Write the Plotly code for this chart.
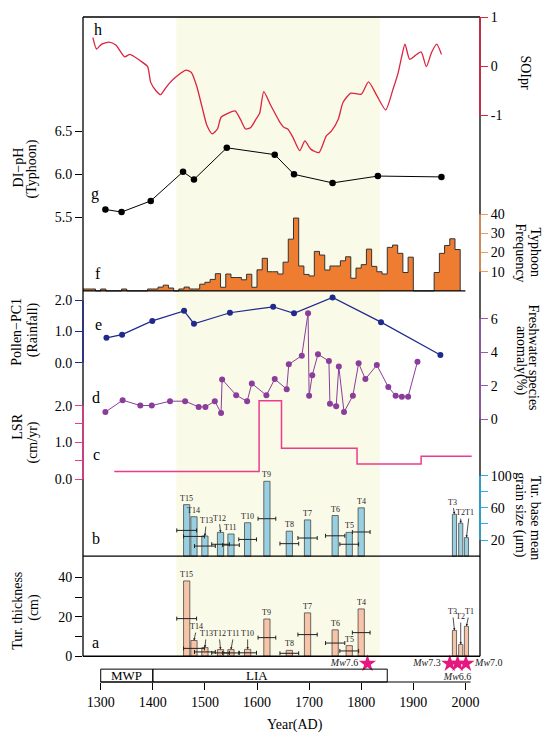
import plotly.graph_objects as go

# ---------------------------------------------------------------------------
# values (x = year AD)
# ---------------------------------------------------------------------------

# h: SOIpr reconstruction
soi_year = [1285, 1292, 1302, 1316, 1329, 1346, 1356, 1376, 1390, 1396,
            1406, 1415, 1423, 1430, 1443, 1464, 1474, 1484, 1494, 1504,
            1514, 1524, 1531, 1544, 1558, 1568, 1578, 1588, 1598, 1605,
            1613, 1625, 1645, 1652, 1659, 1669, 1682, 1692, 1703, 1719,
            1733, 1743, 1756, 1765, 1780, 1800, 1814, 1830, 1847, 1861,
            1871, 1878, 1884, 1893, 1904, 1915, 1925, 1935, 1945, 1954]
soi_value = [0.58, 0.35, 0.45, 0.49, 0.43, 0.19, 0.24, 0.11, -0.01, -0.33,
             -0.50, -0.58, -0.47, -0.37, -0.23, -0.08, -0.13, -0.40, -0.81, -1.21,
             -1.38, -1.28, -1.04, -0.96, -0.91, -1.08, -1.28, -1.25, -1.08, -0.96,
             -0.52, -0.77, -1.16, -1.25, -1.28, -1.45, -1.72, -1.52, -1.69, -1.76,
             -1.42, -1.32, -1.08, -0.74, -0.55, -0.57, -0.32, -0.60, -0.89, -0.47,
             -0.13, 0.21, 0.45, 0.14, 0.22, 0.29, -0.01, 0.28, 0.45, 0.24]

# g: DI-pH (typhoon)
ph_year = [1309, 1340, 1396, 1458, 1479, 1542, 1634, 1671, 1745, 1832, 1954]
ph_value = [5.59, 5.56, 5.69, 6.03, 5.94, 6.31, 6.23, 6.00, 5.90, 5.98, 5.97]

# f: typhoon frequency per decade (bin start years)
typhoon_bin = list(range(1260, 1990, 10))
typhoon_bin_end = 1990
typhoon_freq = [1, 1, 1, 0, 1, 0, 0, 0, 1, 0,
                0, 0, 0, 1, 1, 2, 3, 1.5, 0, 1,
                2, 1, 1, 3.5, 4.5, 6, 9, 1.9, 8.8, 7,
                7, 5.8, 8.7, 1.9, 11, 17, 10, 10, 8.8, 15,
                27, 38, 13, 8.6, 7.8, 20.6, 18.7, 10.9, 13, 13,
                15.7, 17.8, 6.6, 11.9, 13.7, 21.8, 12.8, 10, 8.8, 22.7,
                23.9, 19.6, 9.6, 17.6, 0, 0, 0, 0, 9.6, 19.6,
                23.7, 27.2, 21.6]

# e: pollen PC1 (rainfall)
pc1_year = [1311, 1341, 1399, 1460, 1479, 1548, 1631, 1671, 1745, 1838, 1952]
pc1_value = [0.80, 0.90, 1.34, 1.66, 1.25, 1.60, 1.79, 1.58, 2.09, 1.30, 0.25]

# d: freshwater species anomaly (%)
fresh_year = [1309, 1342, 1376, 1398, 1433, 1462, 1488, 1501, 1519, 1531,
              1533, 1560, 1581, 1590, 1618, 1634, 1657, 1661, 1686, 1698,
              1700, 1706, 1717, 1738, 1740, 1752, 1757, 1767, 1784, 1795,
              1808, 1830, 1852, 1866, 1878, 1890, 1908]
fresh_anomaly = [0.43, 1.14, 0.82, 0.82, 1.08, 1.08, 0.74, 0.74, 1.08, 0.38,
                 2.38, 1.44, 1.07, 2.14, 1.43, 2.40, 1.80, 3.28, 3.80, 6.34,
                 1.41, 2.63, 3.88, 3.48, 0.93, 0.78, 3.15, 0.43, 1.41, 3.34,
                 2.40, 3.24, 1.92, 1.41, 1.35, 1.35, 3.44]

# c: linear sedimentation rate (cm/yr), step edges
lsr_edge = [1326, 1604, 1647, 1792, 1915, 2012]
lsr_rate = [0.21, 2.13, 0.84, 0.41, 0.62]

# a/b: turbidite events
event_name = ["T15", "T14", "T13", "T12", "T11", "T10", "T9", "T8",
              "T7", "T6", "T5", "T4", "T3", "T2", "T1"]
event_year = [1465, 1479, 1500, 1530, 1550, 1582, 1619, 1662,
              1697, 1750, 1777, 1800, 1979, 1991, 2002]
event_grain = [64, 49, 25, 29.5, 27.5, 41.5, 93, 31,
               45, 50.5, 29.5, 60, 52, 41, 23]
event_thickness = [38.2, 8.0, 4.4, 3.4, 3.4, 3.5, 18.9, 3.0,
                   22.0, 13.4, 5.4, 24.0, 13.1, 6.0, 15.2]
event_age_err = [19, 20, 20, 17, 16, 17, 17, 18,
                 18.5, 18.5, 18, 17, 0, 0, 0]

# earthquakes
quake_year = [1812, 1970, 1985, 2001]
quake_mag = ["7.6", "7.3", "6.6", "7.0"]

# climate periods
period_name = ["MWP", "LIA"]
period_start = [1300, 1400]
period_end = [1400, 1850]
lia_shade = (1445, 1836)

# ---------------------------------------------------------------------------
# page geometry (pixels)
# ---------------------------------------------------------------------------
W, H = 550, 737
ML, MR, MT, MB = 83, 70, 10, 55
PW, PH = W - ML - MR, H - MT - MB
PB = H - MB
X_RANGE = [1266, 2028]
FRAME_BOTTOM = 656


def row(py):
    return (PB - py) / PH


def col(px):
    return (px - ML) / PW


def axis_range(v1, y1, v2, y2):
    # v1 sits on pixel row y1 and v2 on y2; stretch to the full plot height
    k = (y1 - y2) / (v2 - v1)
    return [v1 - (PB - y1) / k, v1 + (y1 - MT) / k], k


rng_h, k_h = axis_range(-1, 109.3, 1, 10.1)
rng_g, k_g = axis_range(5.5, 212.3, 6.5, 125.7)
rng_f, k_f = axis_range(0, 286.8, 40, 209.3)
rng_e, k_e = axis_range(0, 359.5, 2, 296.2)
rng_d, k_d = axis_range(0, 416.5, 6, 315)
rng_c, k_c = axis_range(0, 477, 2, 402.7)
rng_b, k_b = axis_range(0, 554.8, 100, 473.5)
rng_a, k_a = axis_range(0, FRAME_BOTTOM, 40, 576.3)

RED = "#DC2440"
ORANGE = "#EF7D31"
ORANGE_AX = "#F39A5C"
NAVY = "#1F2A8C"
PURPLE = "#8A3D9A"
PURPLE_AX = "#9B59B0"
PINK = "#EE3A8C"
CYAN = "#2BB0E6"
GRAIN_FILL = "#98D0E2"
THICK_FILL = "#F8C4A8"
STAR = "#E6177F"
SHADE = "#FAFAE8"
FONT = "Liberation Serif"

fig = go.Figure()

fig.add_trace(go.Scatter(
    x=soi_year, y=soi_value, mode="lines", yaxis="y",
    line=dict(color=RED, width=1.3, shape="spline", smoothing=0.6)))

fig.add_trace(go.Scatter(
    x=ph_year, y=ph_value, mode="lines+markers", yaxis="y2",
    line=dict(color="black", width=1), marker=dict(color="black", size=6.5)))

fig.add_trace(go.Scatter(
    x=typhoon_bin + [typhoon_bin_end], y=typhoon_freq + [0],
    mode="lines", yaxis="y3", fill="tozeroy", fillcolor=ORANGE,
    line=dict(color="#333333", width=1, shape="hv")))

fig.add_trace(go.Scatter(
    x=pc1_year, y=pc1_value, mode="lines+markers", yaxis="y4",
    line=dict(color=NAVY, width=1.2), marker=dict(color=NAVY, size=6)))

fig.add_trace(go.Scatter(
    x=fresh_year, y=fresh_anomaly, mode="lines+markers", yaxis="y5",
    line=dict(color=PURPLE, width=1), marker=dict(color=PURPLE, size=6)))

fig.add_trace(go.Scatter(
    x=lsr_edge, y=lsr_rate + [lsr_rate[-1]], mode="lines", yaxis="y6",
    line=dict(color=PINK, width=1.5, shape="hv")))

bar_w = [8 if y > 1900 else 12 for y in event_year]
dated = [i for i, e in enumerate(event_age_err) if e > 0]

for yref, values, fill in (("y7", event_grain, GRAIN_FILL),
                           ("y8", event_thickness, THICK_FILL)):
    fig.add_trace(go.Bar(
        x=event_year, y=values, width=bar_w, yaxis=yref,
        marker=dict(color=fill, line=dict(color="#4a4a4a", width=0.8))))
    fig.add_trace(go.Scatter(
        x=[event_year[i] for i in dated],
        y=[values[i] / 2 for i in dated],
        mode="markers", yaxis=yref,
        marker=dict(size=1, color="rgba(0,0,0,0)"),
        error_x=dict(type="data", array=[event_age_err[i] for i in dated],
                     color="#222222", thickness=1, width=2)))

STAR_ROW = -3.7  # just under the thickness baseline
fig.add_trace(go.Scatter(
    x=quake_year, y=[STAR_ROW] * len(quake_year), yaxis="y8",
    mode="markers+text", cliponaxis=False,
    marker=dict(symbol="star", size=13, color=STAR),
    text=[f"<i>Mw</i>{m}" for m in quake_mag],
    textposition=["middle left", "middle left", "bottom center", "middle right"],
    textfont=dict(size=10, color="#222222")))

# ---------------------------------------------------------------------------
# axes
# ---------------------------------------------------------------------------


def yax(rng, vals, text, color, side, overlay=True):
    d = dict(range=rng, domain=[0, 1], anchor="x", side=side,
             tickmode="array", tickvals=vals, ticktext=text,
             ticks="outside", ticklen=7, tickwidth=1, tickcolor=color,
             showgrid=False, zeroline=False, showline=False,
             tickfont=dict(size=14, color="black"))
    if overlay:
        d["overlaying"] = "y"
    return d


fig.update_layout(
    xaxis=dict(range=X_RANGE, domain=[0, 1], anchor="free", position=0,
               tickmode="array", tickvals=list(range(1300, 2001, 100)),
               ticks="outside", ticklen=7, tickcolor="black",
               showline=False, showgrid=False, zeroline=False,
               tickfont=dict(size=14)),
    yaxis=yax(rng_h, [-1, 0, 1], ["-1", "0", "1"], RED, "right", overlay=False),
    yaxis2=yax(rng_g, [5.5, 6.0, 6.5], ["5.5", "6.0", "6.5"], "black", "left"),
    yaxis3=yax(rng_f, [10, 20, 30, 40], ["10", "20", "30", "40"], ORANGE_AX, "right"),
    yaxis4=yax(rng_e, [0, 1, 2], ["0.0", "1.0", "2.0"], NAVY, "left"),
    yaxis5=yax(rng_d, [0, 2, 4, 6], ["0", "2", "4", "6"], PURPLE_AX, "right"),
    yaxis6=yax(rng_c, [0, 0.5, 1, 1.5, 2], ["0.0", "", "1.0", "", "2.0"], PINK, "left"),
    yaxis7=yax(rng_b, [20, 40, 60, 80, 100], ["20", "", "60", "", "100"], CYAN, "right"),
    yaxis8=yax(rng_a, [0, 10, 20, 30, 40], ["0", "", "20", "", "40"], "black", "left"),
)

# ---------------------------------------------------------------------------
# frame, shading, period boxes
# ---------------------------------------------------------------------------
shapes = [dict(type="rect", xref="x", yref="paper", x0=lia_shade[0], x1=lia_shade[1],
               y0=row(FRAME_BOTTOM), y1=1, fillcolor=SHADE, line=dict(width=0),
               layer="below")]

frame = dict(type="line", line=dict(color="black", width=1.3), layer="above")
shapes += [
    dict(frame, xref="paper", yref="paper", x0=0, x1=1, y0=1, y1=1),
    dict(frame, xref="paper", yref="paper", x0=0, x1=0, y0=row(FRAME_BOTTOM), y1=1),
    dict(frame, xref="paper", yref="paper", x0=1, x1=1, y0=row(FRAME_BOTTOM), y1=1),
    dict(frame, xref="paper", yref="y8", x0=0, x1=1, y0=0, y1=0),
    dict(frame, xref="paper", yref="y7", x0=0, x1=1, y0=0, y1=0),
    dict(frame, xref="x", yref="y3", x0=X_RANGE[0], x1=2000, y0=0, y1=0),
]

for yref, xp, lo, hi, color in (("y", 1, -1, 1, RED), ("y3", 1, 10, 40, ORANGE_AX),
                                ("y4", 0, 0, 2, NAVY), ("y5", 1, 0, 6, PURPLE_AX),
                                ("y6", 0, 0, 2, PINK), ("y7", 1, 20, 100, CYAN)):
    shapes.append(dict(type="line", xref="paper", yref=yref, x0=xp, x1=xp,
                       y0=lo, y1=hi, line=dict(color=color, width=1.5), layer="above"))

box_top = row(669)
for s, e in zip(period_start, period_end):
    shapes.append(dict(type="rect", xref="x", yref="paper", x0=s, x1=e,
                       y0=0, y1=box_top, line=dict(color="black", width=1)))
shapes.append(dict(type="line", xref="x", yref="paper", x0=1300, x1=2010, y0=0, y1=0,
                   line=dict(color="black", width=1)))

# ---------------------------------------------------------------------------
# text
# ---------------------------------------------------------------------------


def label(text, px, py, size=14, angle=0):
    return dict(text=text, x=col(px), y=row(py), xref="paper", yref="paper",
                showarrow=False, textangle=angle, font=dict(size=size),
                xanchor="center", yanchor="middle")


ann = []
for text, px, py in (("DI\u2212pH", 18, 162), ("(Typhoon)", 32, 164),
                     ("Pollen\u2212PC1", 17, 328), ("(Rainfall)", 32.5, 326),
                     ("LSR", 18, 424), ("(cm/yr)", 33, 440),
                     ("Tur. thickness", 18, 610), ("(cm)", 34, 607)):
    ann.append(label(text, px, py, angle=-90))
for text, px, py in (("SOIpr", 526, 66),
                     ("Typhoon", 535, 248), ("Frequency", 520, 248),
                     ("Freshwater species", 534, 354), ("anomaly(%)", 520.5, 357),
                     ("Tur. base mean", 535, 516), ("grain size (\u03bcm)", 520.5, 513)):
    ann.append(label(text, px, py, angle=90))
for text, px, py in (("h", 97.5, 23), ("g", 95, 189), ("f", 97.5, 269), ("e", 98, 321),
                     ("d", 96, 394), ("c", 96, 452), ("b", 95.5, 537), ("a", 95, 642)):
    ann.append(label(text, px, py, size=16))
ann.append(label("Year(AD)", 295, 725))

box_mid = row(675.3)
for name, s, e in zip(period_name, period_start, period_end):
    at = {"MWP": (s + e) / 2, "LIA": 1600}[name]
    ann.append(dict(text=name, x=at, y=box_mid, xref="x", yref="paper",
                    showarrow=False, font=dict(size=13), yanchor="middle"))

# event labels; some sit higher and point down to their bar
arrow_b = {"T13": 44, "T12": 47, "T3": 67, "T2": 54, "T1": 54}
arrow_a = {"T14": 15, "T13": 11.5, "T12": 11.5, "T11": 11.5, "T10": 11.5,
           "T3": 22.6, "T2": 20, "T1": 22.6}
nudge = {"T14": 3, "T13": 1.5, "T12": -1.5, "T11": 3, "T3": -2, "T1": 3}
for yref, values, arrows, k in (("y7", event_grain, arrow_b, k_b),
                                ("y8", event_thickness, arrow_a, k_a)):
    for name, yr, top in zip(event_name, event_year, values):
        a = dict(text=name, x=yr, y=top, xref="x", yref=yref,
                 font=dict(size=8, color="#222222"))
        if name in arrows:
            a.update(showarrow=True, ax=nudge.get(name, 0),
                     ay=-(arrows[name] - top) * k,
                     arrowhead=2, arrowsize=0.6, arrowwidth=0.8,
                     arrowcolor="#222222", standoff=0)
        else:
            a.update(showarrow=False, yanchor="bottom")
        ann.append(a)

fig.update_layout(
    shapes=shapes, annotations=ann,
    width=W, height=H, showlegend=False, barmode="overlay",
    margin=dict(l=ML, r=MR, t=MT, b=MB, pad=0),
    paper_bgcolor="white", plot_bgcolor="rgba(0,0,0,0)",
    font=dict(family=FONT, size=14, color="black"),
)

# the page body has a default 8px margin; drop it so the figure sits at (0, 0)
fig.write_html("out.html", config={"displayModeBar": False},
               post_script="document.body.style.margin='0px';")
